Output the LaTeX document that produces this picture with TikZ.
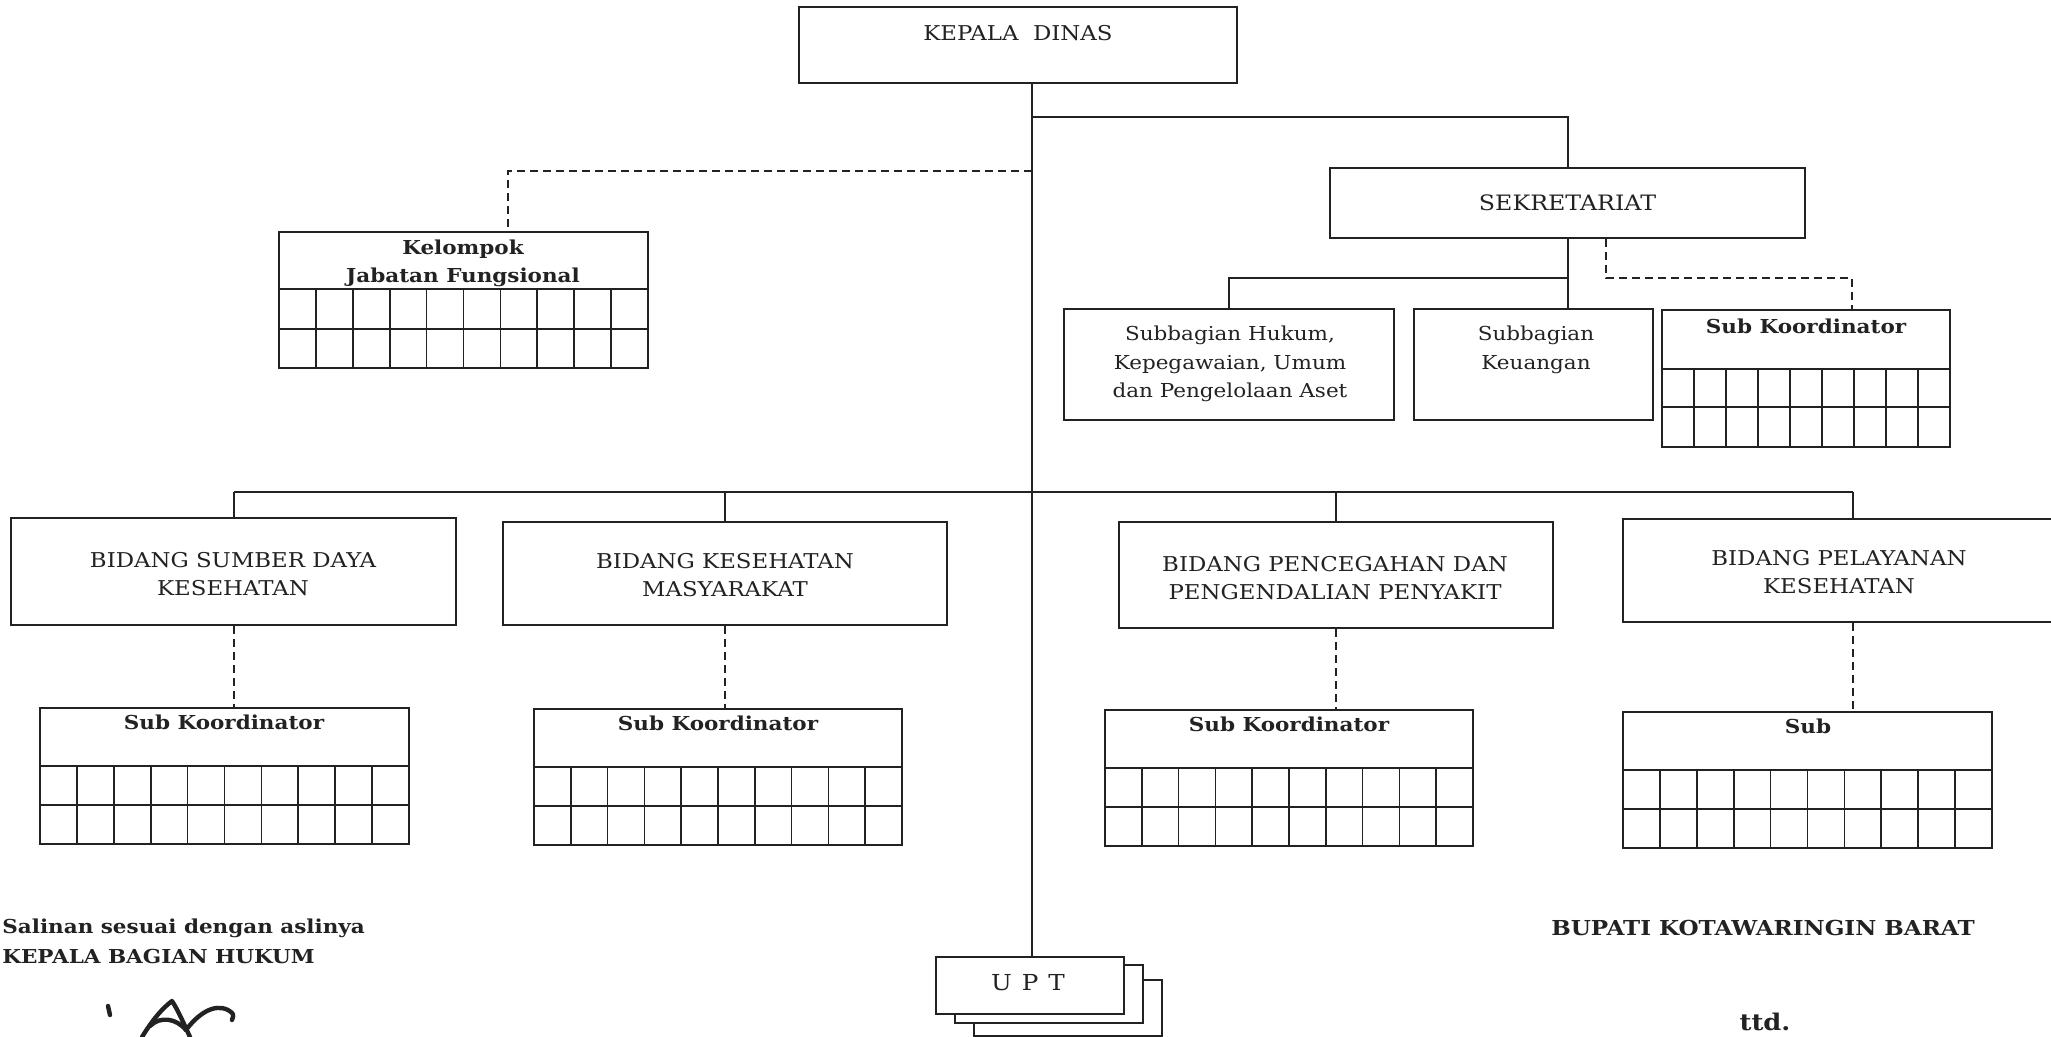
\documentclass[tikz,border=0pt]{standalone}
\usepackage{fontspec}
\setmainfont{DejaVu Serif}[FakeStretch=1.12]
\usetikzlibrary{fit}
\definecolor{ink}{HTML}{222222}
\tikzset{
  box/.style={draw=ink, line width=1pt, inner sep=0pt, align=center},
  conn/.style={draw=ink, line width=1pt},
  dconn/.style={draw=ink, line width=1pt, dash pattern=on 4pt off 2.5pt},
  gridline/.style={draw=ink, line width=0.85pt},
  txt/.style={text=ink, inner sep=0pt, align=center, font=\fontsize{9.6pt}{14.25pt}\selectfont},
  ctxt/.style={text=ink, inner sep=0pt, align=center, font=\fontsize{10.2pt}{14pt}\selectfont},
  btxt/.style={text=ink, inner sep=0pt, align=center, font=\fontsize{9.6pt}{14pt}\selectfont\bfseries},
  ftxt/.style={text=ink, inner sep=0pt, font=\fontsize{9.6pt}{14pt}\selectfont\bfseries},
  sig/.style={draw=ink, line width=2.2pt, line cap=round, line join=round},
}
\newcommand\orgGrid[8]{%
  \node[box, fit={(#2,#3) (#4,#5)}] (#1) {};
  \draw[gridline] (#2,#6) -- (#4,#6) (#2,#7) -- (#4,#7);
  \pgfmathtruncatemacro\nmcols{#8-1}%
  \foreach \k in {1,...,\nmcols}{%
    \pgfmathsetmacro\xx{#2+\k*(#4-#2)/#8}%
    \draw[gridline] (\xx,#6) -- (\xx,#5);
  }%
}
\begin{document}
\begin{tikzpicture}[x=0.5pt, y=-0.5pt]
\useasboundingbox (0,0) rectangle (2051,1037);
\clip (0,0) rectangle (2051,1037);
\fill[white] (0,0) rectangle (2051,1037);

% KEPALA DINAS
\node[box, fit={(799,7) (1237,83)}] (kd) {};
\node[ctxt] (kdt) at (1018,33) {KEPALA\ \ DINAS};
\coordinate (tr) at (1032,117);

% SEKRETARIAT
\node[box, fit={(1330,168) (1805,238)}] (sek) {};
\node[ctxt, font=\fontsize{10.6pt}{14pt}\selectfont] (sekt) at (sek.center) {SEKRETARIAT};
\node[box, fit={(1064,309) (1394,420)}] (huk) {};
\node[txt] (hukt) at (1230,364) {Subbagian Hukum,\\Kepegawaian, Umum\\dan Pengelolaan Aset};
\node[box, fit={(1414,309) (1653,420)}] (keu) {};
\node[txt] (keut) at (1536,350) {Subbagian\\Keuangan};
\orgGrid{sk0}{1662}{310}{1950}{447}{369}{407}{9}
\node[btxt] (sk0t) at (1806,326) {Sub Koordinator};

% Kelompok Jabatan Fungsional
\orgGrid{kjf}{279}{232}{648}{368}{289}{329}{10}
\node[btxt] (kjft) at (463,263) {Kelompok\\Jabatan Fungsional};

% BIDANG
\node[box, fit={(11,518) (456,625)}] (b1) {};
\node[ctxt] (b1t) at (233,574) {BIDANG SUMBER DAYA\\KESEHATAN};
\node[box, fit={(503,522) (947,625)}] (b2) {};
\node[ctxt] (b2t) at (725,575) {BIDANG KESEHATAN\\MASYARAKAT};
\node[box, fit={(1119,522) (1553,628)}] (b3) {};
\node[ctxt] (b3t) at (1335,578) {BIDANG PENCEGAHAN DAN\\PENGENDALIAN PENYAKIT};
\node[box, fit={(1623,519) (2058,622)}] (b4) {};
\node[ctxt] (b4t) at (1839,572) {BIDANG PELAYANAN\\KESEHATAN};
\coordinate (bl) at (0,492.5);
\coordinate (b4c) at (1853,0);

% Sub Koordinator boxes
\orgGrid{sk1}{40}{708}{409}{844}{766}{805}{10}
\node[btxt] (sk1t) at (224,722) {Sub Koordinator};
\orgGrid{sk2}{534}{709}{902}{845}{767}{806}{10}
\node[btxt] (sk2t) at (718,723) {Sub Koordinator};
\orgGrid{sk3}{1105}{710}{1473}{846}{768}{807}{10}
\node[btxt] (sk3t) at (1289,724) {Sub Koordinator};
\orgGrid{sk4}{1623}{712}{1992}{848}{770}{809}{10}
\node[btxt] (sk4t) at (1808,726) {Sub};

% UPT stack
\node[box, fill=white, fit={(974,980) (1162,1036)}] (upt3) {};
\node[box, fill=white, fit={(955,965) (1143,1023)}] (upt2) {};
\node[box, fill=white, fit={(936,957) (1124,1014)}] (upt1) {};
\node[txt, font=\fontsize{11pt}{13pt}\selectfont] (uptt) at (1028,983) {U\hspace{0.45em}P\hspace{0.45em}T};

% connectors
\draw[conn] (kd.south -| tr) -- (upt1.north -| tr);
\draw[conn] (tr) -| (sek.north);
\draw[conn] (sek.south) -- (sek.south |- keu.north);
\draw[conn] (sek.south) -- ++(0,39) -| (huk.north);
\coordinate (d1) at (1606,278);
\coordinate (d2) at (1852,0);
\draw[dconn] (sek.south -| d1) -- (d1) -- (d2 |- d1) -- (d2 |- sk0.north);
\coordinate (d3) at (508,171);
\draw[dconn] (d3 -| tr) -- (d3) -- (d3 |- kjf.north);

\draw[conn] (b1.north |- bl) -- (b4c |- bl);
\draw[conn] (b1.north |- bl) -- (b1.north);
\draw[conn] (b2.north |- bl) -- (b2.north);
\draw[conn] (b3.north |- bl) -- (b3.north);
\draw[conn] (b4c |- bl) -- (b4c |- b4.north);

\draw[dconn] (b1.south) -- (b1.south |- sk1.north);
\draw[dconn] (b2.south) -- (b2.south |- sk2.north);
\draw[dconn] (b3.south) -- (b3.south |- sk3.north);
\draw[dconn] (b4c |- b4.south) -- (b4c |- sk4.north);

% footer texts
\node[ftxt, anchor=base west] (sal) at (2,933) {Salinan sesuai dengan aslinya};
\node[ftxt, anchor=base west] (kbh) at (2,963) {KEPALA BAGIAN HUKUM};
\node[ftxt, anchor=base, font=\fontsize{10.3pt}{14pt}\selectfont\bfseries] (bup) at (1763,935) {BUPATI KOTAWARINGIN BARAT};
\node[ftxt, anchor=base, font=\fontsize{11.5pt}{14pt}\selectfont\bfseries] (ttd) at (1765,1030) {ttd.};

% signature
\draw[sig] (108,1006) -- (110,1015);
\draw[sig] (142,1037) .. controls (150,1024) and (160,1010) .. (172,1001)
  .. controls (178,1010) and (184,1024) .. (190,1037);
\draw[sig] (150,1026) .. controls (160,1016) and (176,1018) .. (186,1030);
\draw[sig] (186,1030) .. controls (198,1014) and (214,1003) .. (228,1010)
  .. controls (234,1014) .. (232,1020);
\end{tikzpicture}
\end{document}
